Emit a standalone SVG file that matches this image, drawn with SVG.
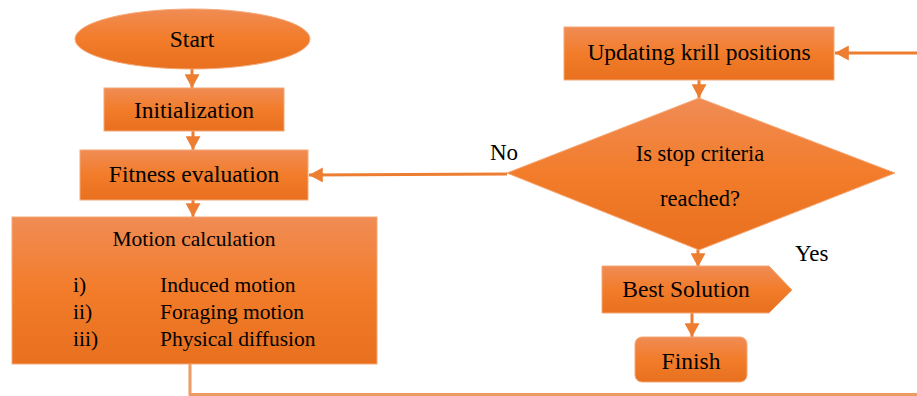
<svg xmlns="http://www.w3.org/2000/svg" width="917" height="396" viewBox="0 0 917 396">
<defs>
<linearGradient id="og" x1="0" y1="0" x2="0" y2="1">
<stop offset="0" stop-color="#F08C55"/>
<stop offset="0.5" stop-color="#F27C2A"/>
<stop offset="1" stop-color="#E8701E"/>
</linearGradient>
<marker id="ah" markerWidth="5" markerHeight="5" refX="4.6" refY="2.5" orient="auto" markerUnits="strokeWidth">
<path d="M0,0 L4.6,2.5 L0,5 z" fill="#ED7D31"/>
</marker>
<style>
.sh{fill:url(#og);stroke:#F4A877;stroke-width:1}
.t{font-family:"Liberation Serif","Times New Roman",serif;fill:#000}
.m{font-size:23.5px;text-anchor:middle}
.s{font-size:21.5px}
.c{stroke:#ED7D31;stroke-width:3;fill:none}
</style>
</defs>
<g id="connectors">
<line class="c" x1="192" y1="69" x2="192" y2="88" marker-end="url(#ah)"/>
<line class="c" x1="193" y1="131" x2="193" y2="150" marker-end="url(#ah)"/>
<line class="c" x1="193" y1="199" x2="193" y2="217" marker-end="url(#ah)"/>
<line class="c" x1="507" y1="174" x2="309" y2="175" marker-end="url(#ah)"/>
<line class="c" x1="917" y1="53" x2="835" y2="53" marker-end="url(#ah)"/>
<line class="c" x1="699" y1="80" x2="699" y2="98" marker-end="url(#ah)"/>
<line class="c" x1="698" y1="244" x2="698" y2="267" marker-end="url(#ah)"/>
<line class="c" x1="692" y1="313" x2="692" y2="337" marker-end="url(#ah)"/>
<polyline class="c" points="190,364 190,394.5 917,394.5" style="stroke:#EE9A63"/>
</g>
<g id="start">
<ellipse class="sh" cx="192.5" cy="39" rx="117.5" ry="30"/>
<text class="t m" x="192" y="47">Start</text>
</g>
<g id="init">
<rect class="sh" x="104" y="88" width="180" height="43"/>
<text class="t m" x="194" y="118">Initialization</text>
</g>
<g id="fitness">
<rect class="sh" x="80" y="150" width="228" height="50"/>
<text class="t m" x="194" y="182">Fitness evaluation</text>
</g>
<g id="motion">
<rect class="sh" x="12" y="217" width="365" height="147"/>
<text class="t s" x="194" y="246" text-anchor="middle">Motion calculation</text>
<text class="t s" x="73" y="292">i)</text>
<text class="t s" x="160" y="292">Induced motion</text>
<text class="t s" x="73" y="319">ii)</text>
<text class="t s" x="160" y="319">Foraging motion</text>
<text class="t s" x="73" y="346">iii)</text>
<text class="t s" x="160" y="346">Physical diffusion</text>
</g>
<g id="update">
<rect class="sh" x="564" y="27" width="270" height="53"/>
<text class="t m" x="699" y="60">Updating krill positions</text>
</g>
<g id="decision">
<polygon class="sh" points="699,98 895,173 699,250 507,173"/>
<text class="t" x="700" y="161" font-size="22.5" text-anchor="middle">Is stop criteria</text>
<text class="t" x="700" y="206" font-size="22.5" text-anchor="middle">reached?</text>
<text class="t" x="490" y="160" font-size="23">No</text>
<text class="t" x="795" y="261" font-size="23">Yes</text>
</g>
<g id="best">
<polygon class="sh" points="602,266 769,266 792,290 769,313 602,313"/>
<text class="t m" x="686" y="297">Best Solution</text>
</g>
<g id="finish">
<rect class="sh" x="635" y="337" width="112" height="45" rx="7"/>
<text class="t m" x="691" y="369">Finish</text>
</g>
</svg>
